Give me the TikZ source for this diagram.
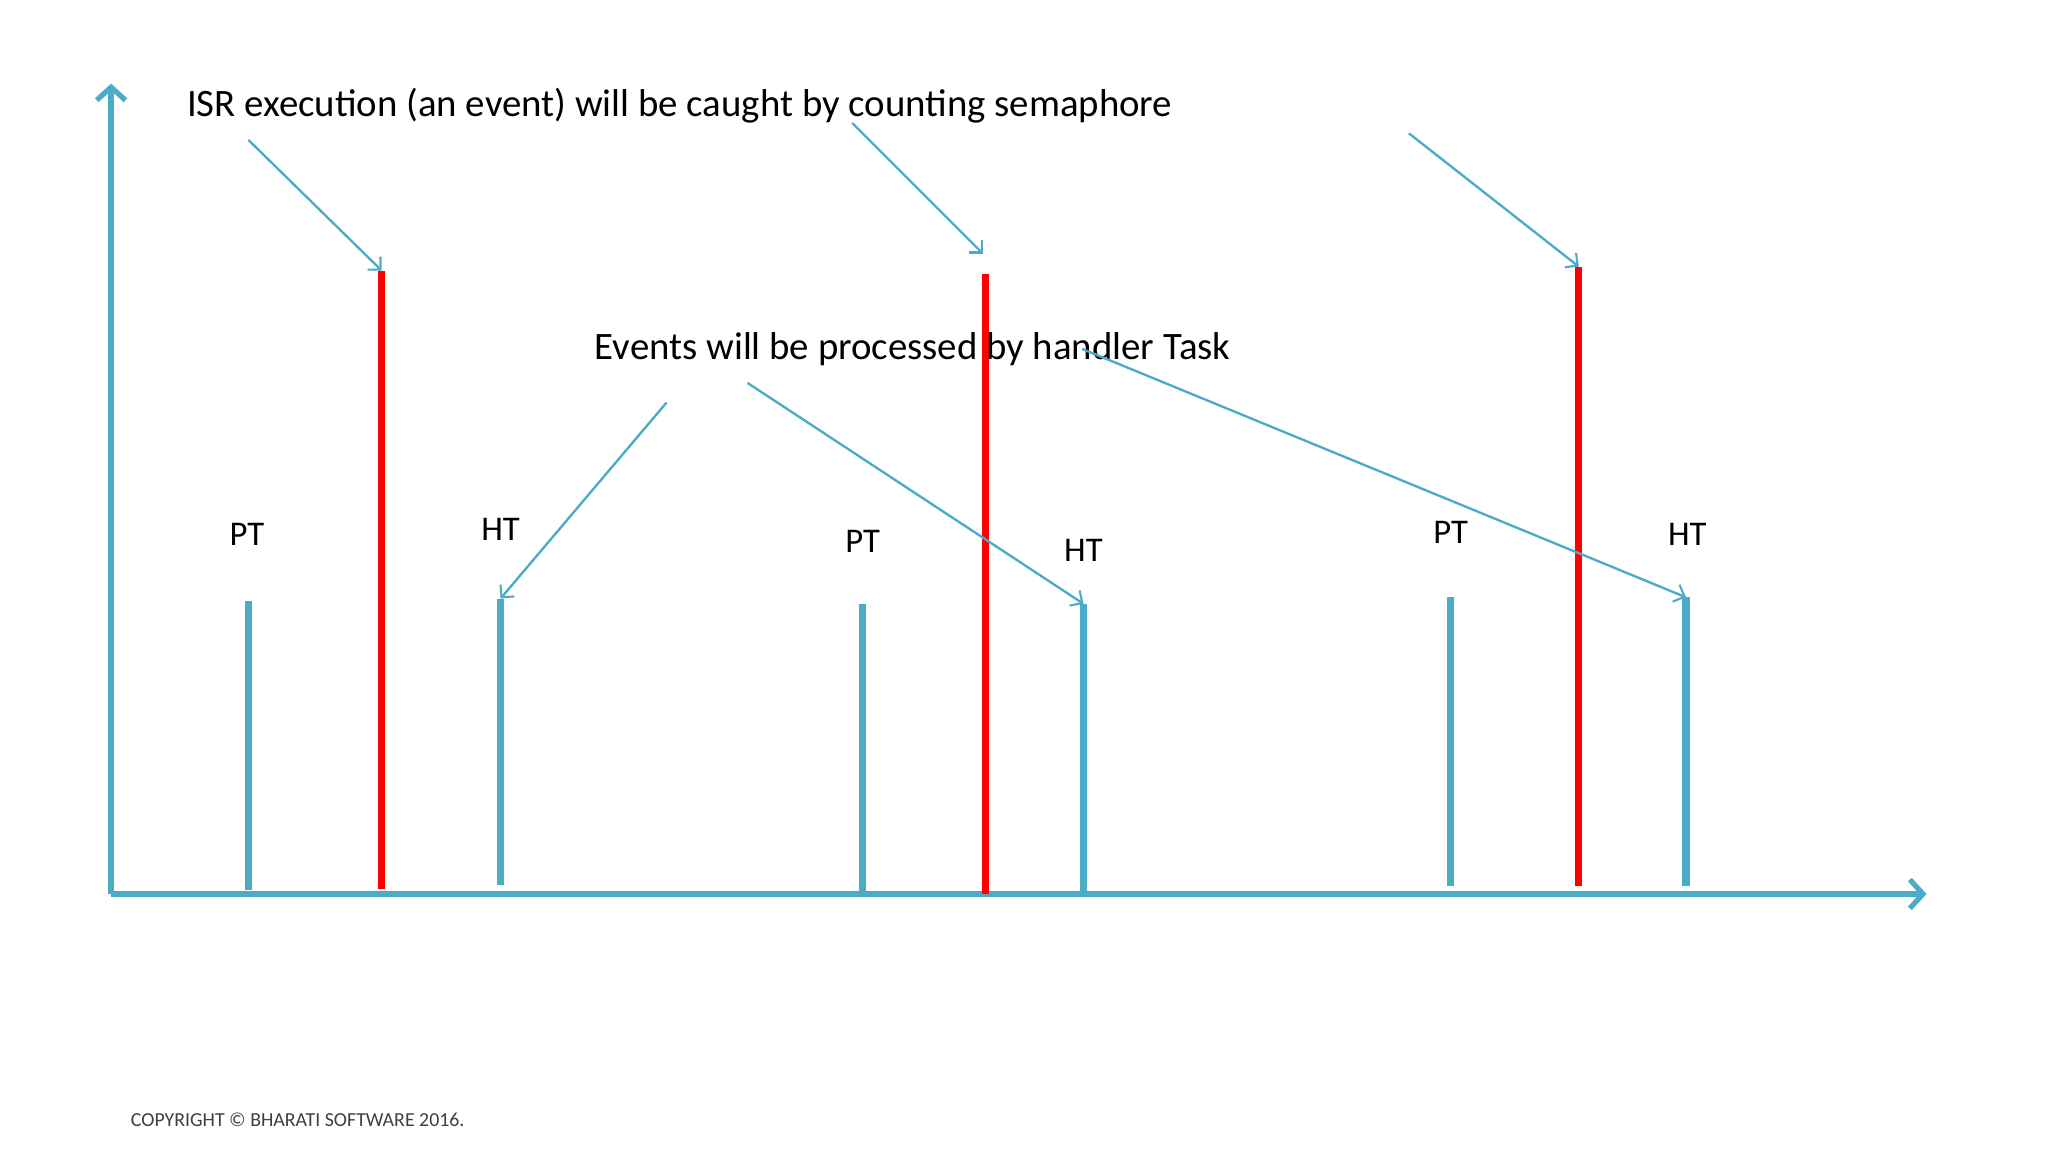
\documentclass[tikz,border=0pt]{standalone}
\usepackage{fontspec}
\setmainfont{Carlito}
\usetikzlibrary{arrows.meta}
\definecolor{axblue}{RGB}{75,172,198}
\definecolor{evred}{RGB}{255,0,0}
\begin{document}
\begin{tikzpicture}[x=1pt,y=-1pt,
  axisline/.style={axblue,line width=5pt,-{Straight Barb[length=10pt,width=22pt,line width=4pt]}},
  bluebar/.style={axblue,line width=5.5pt},
  redbar/.style={evred,line width=5.5pt},
  pointer/.style={axblue,line width=1.8pt,-{Straight Barb[length=7pt,width=14pt,line width=1.6pt]}},
  lbl/.style={font=\fontsize{26.5}{30}\selectfont,inner sep=0pt},
  title/.style={font=\fontsize{29.7}{34}\selectfont,inner sep=0pt,anchor=west}]
\useasboundingbox (0,0) rectangle (1567,881);
\fill[white] (0,0) rectangle (1567,881);
\coordinate (o) at (85,684);
\coordinate (ytop) at (85,64);
\coordinate (xend) at (1474,684);
\draw[axisline] (o) -- (ytop);
\draw[axisline] (o) -- (xend);
% bars
\foreach \n/\x/\t/\b in {p1/190/460/681,h1/383/458/677,p2/660/462/684,h2/829/462/684,p3/1110/457/678,h3/1290/457/678}{
  \coordinate (\n t) at (\x,\t); \coordinate (\n b) at (\x,\b);
  \draw[bluebar] (\n b) -- (\n t);}
\foreach \n/\x/\t/\b in {r1/292/207/680,r2/754/210/684,r3/1208/204/678}{
  \coordinate (\n t) at (\x,\t); \coordinate (\n b) at (\x,\b);
  \draw[redbar] (\n b) -- (\n t);}
% labels
\node[lbl] (lp1) at (189,409) {PT};
\node[lbl] (lh1) at (383,405) {HT};
\node[lbl] (lp2) at (660,414) {PT};
\node[lbl] (lh2) at (829,421) {HT};
\node[lbl] (lp3) at (1110,407) {PT};
\node[lbl] (lh3) at (1291,409) {HT};
\node[title] (isr) at (143,81) {ISR execution (an event) will be caught by counting semaphore};
\node[title] (ev) at (455,267) {Events will be processed by handler Task};
\node[font=\fontsize{15.2}{17}\selectfont,anchor=west,inner sep=0pt,text=black!75] (copy) at (100,857) {COPYRIGHT © BHARATI SOFTWARE 2016.};
% pointers
\coordinate (a1) at (190,107); \coordinate (a2) at (652,94); \coordinate (a3) at (1078,102);
\coordinate (b1) at (510,308); \coordinate (b2) at (572,293); \coordinate (b3) at (828,267);
\draw[pointer] (a1) -- (r1t);
\draw[pointer] (a2) -- (752,194);
\draw[pointer] (a3) -- (r3t);
\draw[pointer] (b1) -- (h1t);
\draw[pointer] (b2) -- (h2t);
\draw[pointer] (b3) -- (h3t);
\end{tikzpicture}
\end{document}
